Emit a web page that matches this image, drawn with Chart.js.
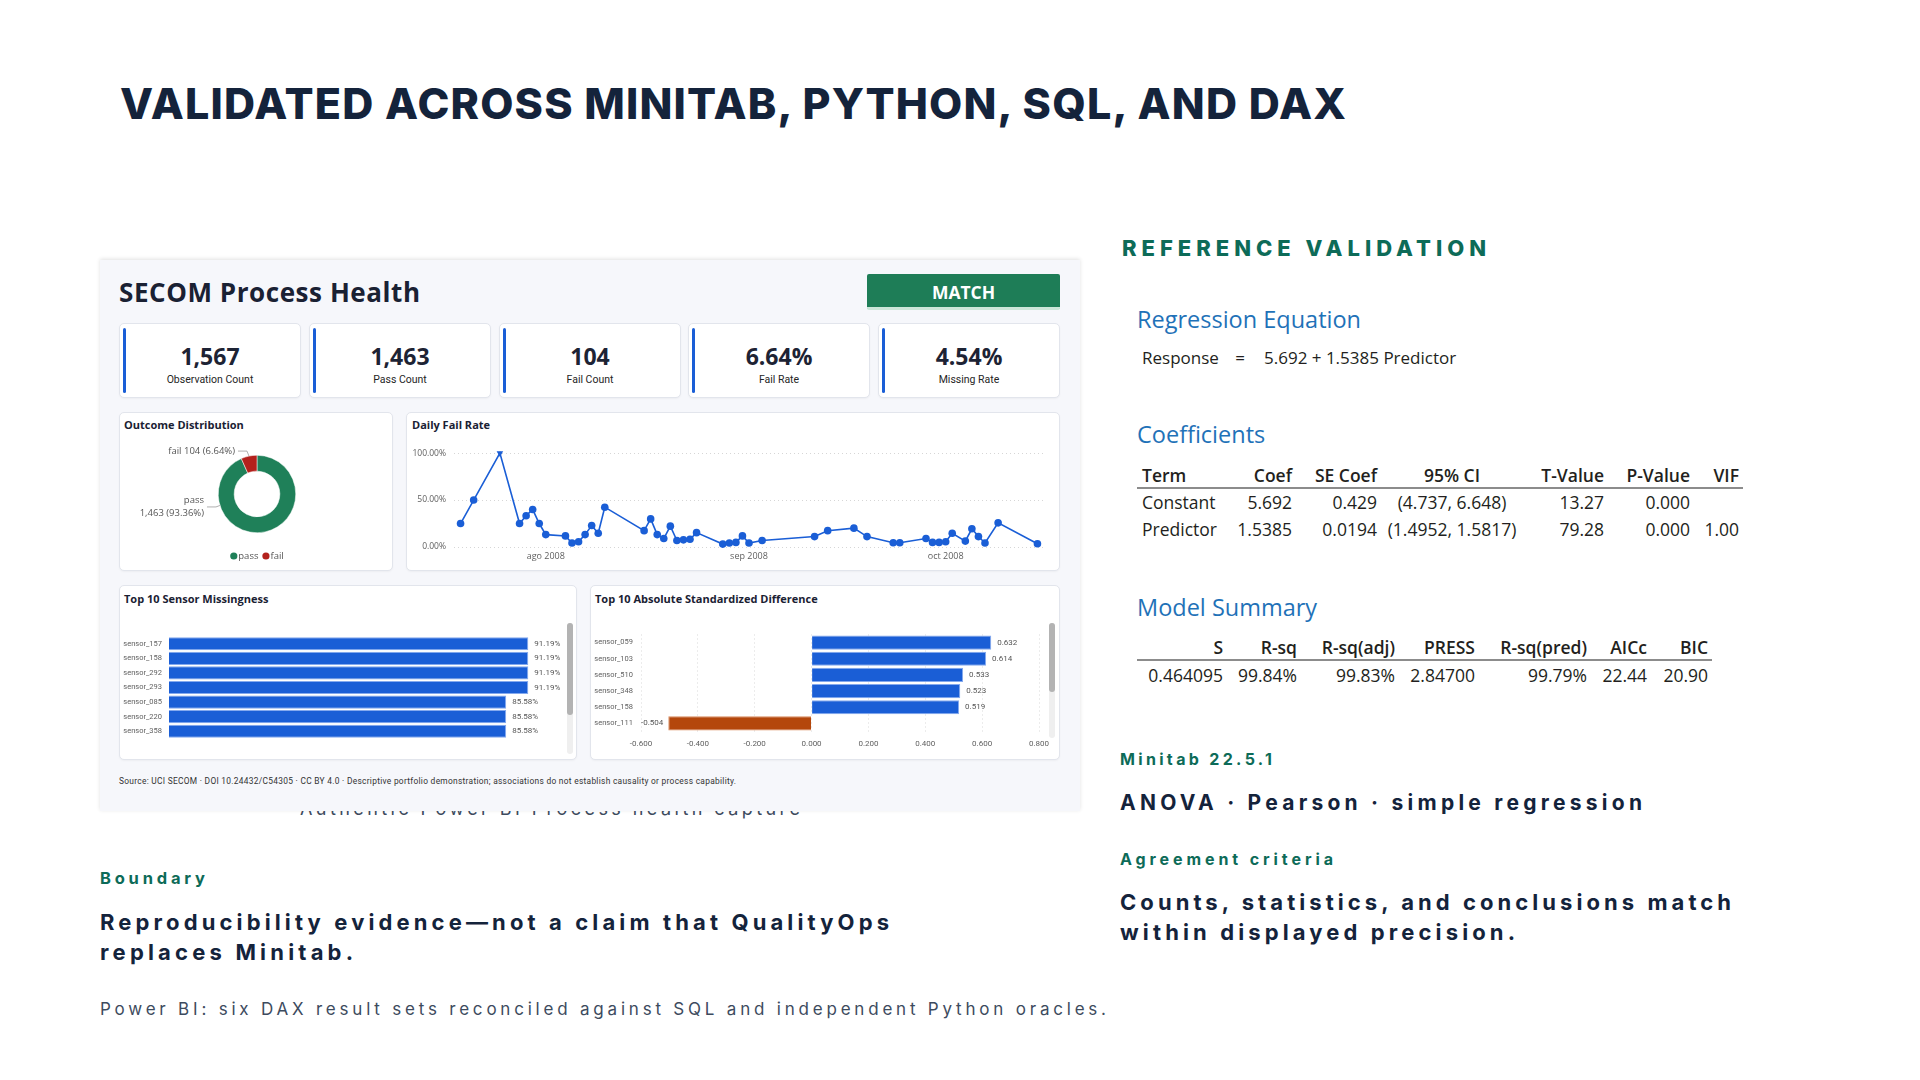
<!DOCTYPE html>
<html lang="en">
<head>
<meta charset="utf-8">
<title>Validated across Minitab, Python, SQL, and DAX</title>
<script src="https://cdn.jsdelivr.net/npm/chart.js@4.4.1/dist/chart.umd.min.js"></script>
<style>
  html, body { margin: 0; padding: 0; background: #fff; }
  body { position: relative; width: 1920px; height: 1080px; overflow: hidden; font-family: Inter, "Noto Sans", sans-serif; color: #14233b; }
  .t { position: absolute; white-space: nowrap; line-height: 1; }
  .kicker { font-weight: 700; color: #0d6b58; }
  .strong { font-weight: 700; color: #14233b; }
  .mt { font-family: "Open Sans", "Noto Sans", sans-serif; color: #231f20; }
  .mt-h { font-family: "Open Sans", "Noto Sans", sans-serif; color: #1f72b8; }
  .rule { position: absolute; height: 2px; background: #8c8c8c; }
  #panel { position: absolute; left: 100px; top: 260px; width: 980px; height: 551px; background: #f6f7fb; box-shadow: 0 -1px 4px rgba(0,0,0,0.12); z-index: 2; }
  .pbi { font-family: "Open Sans", "Noto Sans", sans-serif; z-index: 3; }
  .card { position: absolute; background: #fff; border: 1px solid #e2e5ec; border-radius: 5px; box-sizing: border-box; z-index: 3; box-shadow: 0 1px 2px rgba(0,0,0,0.04); }
  .kpi .bar { position: absolute; left: 3px; top: 4px; width: 3px; height: 65px; background: #1a5ed6; border-radius: 2px; }
  .kpi .val { position: absolute; left: 0; right: 0; top: 21px; text-align: center; font-size: 23px; font-weight: 700; color: #1d2334; line-height: 1; }
  .kpi .lab { position: absolute; left: 0; right: 0; top: 51px; text-align: center; font-size: 10.5px; color: #252525; line-height: 1; font-family: Roboto, "Open Sans", sans-serif; }
  #match { position: absolute; left: 867px; top: 274px; width: 193px; height: 33px; background: #1e7d57; border-bottom: 3px solid #cbe6d9; border-radius: 2px; color: #fff; font-weight: 700; font-size: 17.5px; line-height: 36px; text-align: center; z-index: 3; overflow: hidden; }
  canvas { position: absolute; z-index: 4; }
  .scroll { position: absolute; width: 6px; background: #efefef; border-radius: 3px; z-index: 4; }
  .scroll div { position: absolute; left: 0; top: 0; width: 6px; background: #b3b3b3; border-radius: 3px; }
</style>
</head>
<body>

<div id="panel"></div>
<div id="match" class="pbi">MATCH</div>
<div class="card" style="left:119px;top:412px;width:274px;height:159px;"></div>
<div class="card" style="left:406px;top:412px;width:654px;height:159px;"></div>
<div class="card" style="left:119px;top:585px;width:458px;height:175px;"></div>
<div class="card" style="left:590px;top:585px;width:470px;height:175px;"></div>
<div class="scroll" style="left:567px;top:623px;height:131px;"><div style="height:92px;"></div></div>
<div class="scroll" style="left:1049px;top:623px;height:115px;"><div style="height:69px;"></div></div>

<canvas id="donut" width="272" height="140" style="left:120px;top:432px;"></canvas>
<canvas id="rate" width="650" height="131" style="left:407px;top:440px;"></canvas>
<canvas id="miss" width="447" height="125" style="left:120px;top:625px;"></canvas>
<canvas id="diff" width="469" height="134" style="left:591px;top:622px;"></canvas>

<script>
// ---- data ----
const kpiValues = ['1,567', '1,463', '104', '6.64%', '4.54%'];
const kpiLabels = ['Observation Count', 'Pass Count', 'Fail Count', 'Fail Rate', 'Missing Rate'];

const outcomeLabels = ['pass', 'fail'];
const outcomeCounts = [1463, 104];
const outcomeShares = ['93.36%', '6.64%'];

const failDates = ['2008-07-19','2008-07-21','2008-07-25','2008-07-28','2008-07-29','2008-07-30','2008-07-31',
  '2008-08-01','2008-08-04','2008-08-05','2008-08-06','2008-08-07','2008-08-08','2008-08-09','2008-08-10',
  '2008-08-16','2008-08-17','2008-08-18','2008-08-19','2008-08-20','2008-08-21','2008-08-22','2008-08-23','2008-08-24',
  '2008-08-28','2008-08-29','2008-08-30','2008-08-31','2008-09-01','2008-09-03','2008-09-11','2008-09-13',
  '2008-09-17','2008-09-19','2008-09-23','2008-09-24','2008-09-28','2008-09-29','2008-09-30','2008-10-01',
  '2008-10-02','2008-10-04','2008-10-05','2008-10-06','2008-10-07','2008-10-09','2008-10-15'];
const failRates = [25, 50, 100, 25, 33.3, 40, 25,
  13.2, 11.8, 4.2, 5.6, 13.2, 22.9, 14.6, 42.4,
  17.4, 29.9, 13.2, 9.0, 22.2, 6.9, 7.6, 8.3, 15.3,
  3.1, 4.2, 4.9, 11.8, 4.2, 6.9, 11.1, 17.4,
  20.1, 11.1, 4.5, 4.5, 9.0, 4.9, 4.9, 5.6,
  14.6, 6.3, 19.4, 11.1, 4.2, 25.7, 3.5];
const monthTickDates = ['2008-08-01', '2008-09-01', '2008-10-01'];
const monthTickLabels = ['ago 2008', 'sep 2008', 'oct 2008'];
const rateTicks = [0, 50, 100];

const missSensors = ['sensor_157','sensor_158','sensor_292','sensor_293','sensor_085','sensor_220','sensor_358'];
const missPct = [91.19, 91.19, 91.19, 91.19, 85.58, 85.58, 85.58];

const diffSensors = ['sensor_059','sensor_103','sensor_510','sensor_348','sensor_158','sensor_111'];
const diffValues = [0.632, 0.614, 0.533, 0.523, 0.519, -0.504];

const coefHeader = ['Term', 'Coef', 'SE Coef', '95% CI', 'T-Value', 'P-Value', 'VIF'];
const coefRows = [
  ['Constant', '5.692', '0.429', '(4.737, 6.648)', '13.27', '0.000', ''],
  ['Predictor', '1.5385', '0.0194', '(1.4952, 1.5817)', '79.28', '0.000', '1.00']
];
const summaryHeader = ['S', 'R-sq', 'R-sq(adj)', 'PRESS', 'R-sq(pred)', 'AICc', 'BIC'];
const summaryRow = ['0.464095', '99.84%', '99.83%', '2.84700', '99.79%', '22.44', '20.90'];

// ---- colours ----
const BLUE = '#1a5ed6';
const BLUE_EDGE = '#84a9ee';
const ORANGE = '#b4470c';
const PASS = '#1f8059';
const FAIL = '#b3211c';
const AXIS_TXT = '#5f5f5f';
const PBI_FONT = '"Open Sans", "Noto Sans", sans-serif';
const SMALL_FONT = 'Roboto, "Open Sans", sans-serif';

// ---- text helpers ----
function put(text, x, yc, fs, cls, align, weight) {
  var d = document.createElement('div');
  d.className = 't ' + cls;
  d.textContent = text;
  d.style.fontSize = fs + 'px';
  d.style.top = (yc - 0.53 * fs) + 'px';
  d.style.left = x + 'px';
  if (weight) d.style.fontWeight = weight;
  if (align == 'right') d.style.transform = 'translateX(-100%)';
  if (align == 'center') d.style.transform = 'translateX(-50%)';
  document.body.appendChild(d);
  return d;
}
// spread letters so the line spans the same width as in the slide
function fitWidth(el, target) {
  el.style.letterSpacing = '0px';
  var natural = el.getBoundingClientRect().width;
  var n = el.textContent.length;
  el.style.letterSpacing = ((target - natural) / (n - 1)) + 'px';
}

// slide texts
fitWidth(put('VALIDATED ACROSS MINITAB, PYTHON, SQL, AND DAX', 120, 104.5, 43, 'strong', 'left', 800), 1226);
fitWidth(put('REFERENCE VALIDATION', 1122, 249, 22, 'kicker', 'left', 800), 364);
fitWidth(put('Minitab 22.5.1', 1120, 759, 16, 'kicker'), 152);
fitWidth(put('ANOVA · Pearson · simple regression', 1120, 803, 21, 'strong'), 522);
fitWidth(put('Agreement criteria', 1120, 859, 16, 'kicker'), 213);
fitWidth(put('Counts, statistics, and conclusions match', 1120, 903, 22, 'strong'), 611);
fitWidth(put('within displayed precision.', 1120, 933, 22, 'strong'), 395);
fitWidth(put('Boundary', 100, 879, 16.5, 'kicker'), 105);
fitWidth(put('Reproducibility evidence\u2014not a claim that QualityOps', 100, 923, 22, 'strong'), 789);
fitWidth(put('replaces Minitab.', 100, 953, 22, 'strong'), 253);
var pb = put('Power BI: six DAX result sets reconciled against SQL and independent Python oracles.', 100, 1010, 17, 'strong', 'left', 400);
pb.style.color = '#3d4b5e';
fitWidth(pb, 1006);
var cap = put('Authentic Power BI Process health capture', 300, 810, 18, 'strong', 'left', 400);
cap.style.color = '#3d4b5e';
cap.style.zIndex = 1;
fitWidth(cap, 500);

// Minitab output
put('Regression Equation', 1137, 320, 23.5, 'mt-h');
put('Response', 1142, 358, 17, 'mt');
put('=', 1240, 358, 17, 'mt', 'center');
put('5.692 + 1.5385 Predictor', 1264, 358, 17, 'mt');
put('Coefficients', 1137, 435, 23.5, 'mt-h');
put('Model Summary', 1137, 608, 23.5, 'mt-h');

var coefCols = [[1142, 'left'], [1292, 'right'], [1377, 'right'], [1452, 'center'], [1604, 'right'], [1690, 'right'], [1739, 'right']];
coefHeader.forEach(function (h, i) { put(h, coefCols[i][0], 476, 17.5, 'mt', coefCols[i][1], 600); });
coefRows.forEach(function (row, r) {
  row.forEach(function (c, i) { if (c) put(c, coefCols[i][0], 503 + r * 27, 17.5, 'mt', coefCols[i][1]); });
});
var summaryCols = [1223, 1297, 1395, 1475, 1587, 1647, 1708];
summaryHeader.forEach(function (h, i) { put(h, summaryCols[i], 648, 17.5, 'mt', 'right', 600); });
summaryRow.forEach(function (c, i) { put(c, summaryCols[i], 676, 17.5, 'mt', 'right'); });
[[1137, 487, 606], [1137, 659, 575]].forEach(function (r) {
  var d = document.createElement('div');
  d.className = 'rule';
  d.style.left = r[0] + 'px'; d.style.top = r[1] + 'px'; d.style.width = r[2] + 'px';
  document.body.appendChild(d);
});

// dashboard texts
var secom = put('SECOM Process Health', 119, 293, 26, 'pbi', 'left', 700);
secom.style.color = '#1a2133';
fitWidth(secom, 301);
put('Outcome Distribution', 124, 425, 11, 'pbi', 'left', 700).style.color = '#1a2133';
put('Daily Fail Rate', 412, 425, 11, 'pbi', 'left', 700).style.color = '#1a2133';
put('Top 10 Sensor Missingness', 124, 599, 11, 'pbi', 'left', 700).style.color = '#1a2133';
put('Top 10 Absolute Standardized Difference', 595, 599, 11, 'pbi', 'left', 700).style.color = '#1a2133';
var src = put('Source: UCI SECOM \u00b7 DOI 10.24432/C54305 \u00b7 CC BY 4.0 \u00b7 Descriptive portfolio demonstration; associations do not establish causality or process capability.', 119, 781, 8.4, 'pbi');
src.style.fontFamily = SMALL_FONT;
src.style.color = '#333';
fitWidth(src, 617);

var kpiLeft = [119, 309, 499, 688, 878];
kpiValues.forEach(function (v, i) {
  var c = document.createElement('div');
  c.className = 'card kpi pbi';
  c.style.cssText = 'left:' + kpiLeft[i] + 'px;top:323px;width:182px;height:75px;';
  c.innerHTML = '<div class="bar"></div><div class="val"></div><div class="lab"></div>';
  c.querySelector('.val').textContent = v;
  c.querySelector('.lab').textContent = kpiLabels[i];
  document.body.appendChild(c);
});

// ---- charts ----
Chart.defaults.font.family = PBI_FONT;
Chart.defaults.animation = false;
Chart.defaults.plugins.legend.display = false;
Chart.defaults.plugins.tooltip.enabled = false;

function dayNum(s) { return Date.parse(s + 'T00:00:00Z') / 86400000; }
// keep end tick labels from shrinking the plot sideways
function noSidePad(s) { s.paddingLeft = 0; s.paddingRight = 0; }

// outside labels with leader lines, plus a small legend under the ring
const donutDecor = {
  id: 'donutDecor',
  afterDraw: function (chart, args, opts) {
    var ctx = chart.ctx;
    var meta = chart.getDatasetMeta(0);
    ctx.save();
    ctx.font = '9.5px ' + PBI_FONT;
    ctx.lineWidth = 0.8;
    meta.data.forEach(function (arc, i) {
      var p = arc.getProps(['x', 'y', 'outerRadius', 'startAngle', 'endAngle'], true);
      var ang = opts.anchors[i] == null ? (p.startAngle + p.endAngle) / 2 : opts.anchors[i];
      var ax = p.x + Math.cos(ang) * p.outerRadius, ay = p.y + Math.sin(ang) * p.outerRadius;
      var ex = ax + opts.elbows[i][0], ey = ay + opts.elbows[i][1];
      ctx.strokeStyle = '#9a9a9a';
      ctx.beginPath(); ctx.moveTo(ax, ay); ctx.lineTo(ex, ey); ctx.lineTo(ex - 9, ey); ctx.stroke();
      ctx.fillStyle = '#555';
      ctx.textAlign = 'right'; ctx.textBaseline = 'middle';
      var lines = opts.text[i];
      lines.forEach(function (t, k) {
        ctx.fillText(t, ex - 12, ey + (k - (lines.length - 1) / 2) * 13);
      });
    });
    // legend
    var labels = chart.data.labels, colors = chart.data.datasets[0].backgroundColor;
    var widths = labels.map(function (l) { return 8 + ctx.measureText(l).width; });
    var total = widths.reduce(function (a, b) { return a + b; }, 0) + 4 * (labels.length - 1);
    var x = meta.data[0].x - total / 2, y = opts.legendY;
    labels.forEach(function (l, i) {
      ctx.fillStyle = colors[i];
      ctx.beginPath(); ctx.arc(x + 3.5, y, 3.6, 0, Math.PI * 2); ctx.fill();
      ctx.fillStyle = '#555'; ctx.textAlign = 'left';
      ctx.fillText(l, x + 8, y);
      x += widths[i] + 4;
    });
    ctx.restore();
  }
};

new Chart(document.getElementById('donut'), {
  type: 'doughnut',
  data: {
    labels: outcomeLabels,
    datasets: [{ data: outcomeCounts, backgroundColor: [PASS, FAIL], borderColor: '#fff', borderWidth: 0.5 }]
  },
  options: {
    responsive: false,
    cutout: '59%',
    layout: { padding: { left: 98, right: 96, top: 23, bottom: 39 } },
    plugins: {
      donutDecor: {
        anchors: [Math.PI - 0.3, null],
        elbows: [[-4, 1.5], [-2, -5]],
        text: [[outcomeLabels[0], '1,463 (' + outcomeShares[0] + ')'], [outcomeLabels[1] + ' 104 (' + outcomeShares[1] + ')']],
        legendY: 124
      }
    }
  },
  plugins: [donutDecor]
});

new Chart(document.getElementById('rate'), {
  type: 'line',
  data: {
    datasets: [{
      data: failDates.map(function (d, i) { return { x: dayNum(d), y: failRates[i] }; }),
      borderColor: BLUE, backgroundColor: BLUE, borderWidth: 1.6,
      pointRadius: 3.8, pointHoverRadius: 3.8, pointBorderWidth: 0,
      pointStyle: failRates.map(function (v) { return v >= 100 ? 'triangle' : 'circle'; }),
      pointRotation: failRates.map(function (v) { return v >= 100 ? 180 : 0; }),
      clip: false
    }]
  },
  options: {
    responsive: false,
    layout: { padding: { top: 11, right: 13, bottom: 6 } },
    scales: {
      x: {
        type: 'linear', min: dayNum('2008-07-18'), max: dayNum('2008-10-16'),
        grid: { display: false, drawTicks: false }, border: { display: false },
        afterBuildTicks: function (s) { s.ticks = monthTickDates.map(function (d) { return { value: dayNum(d) }; }); },
        ticks: { padding: 4, font: { size: 9 }, color: AXIS_TXT, maxRotation: 0, autoSkip: false,
          callback: function (v, i) { return monthTickLabels[i]; } },
        afterFit: function (s) { s.height = 18; noSidePad(s); }
      },
      y: {
        min: 0, max: 100,
        afterBuildTicks: function (s) { s.ticks = rateTicks.map(function (v) { return { value: v }; }); },
        ticks: { padding: 8, font: { size: 8.5 }, color: AXIS_TXT, callback: function (v) { return v.toFixed(2) + '%'; } },
        grid: { color: '#d6d6d6', drawTicks: false, lineWidth: 1 },
        border: { display: false, dash: [1, 3] },
        afterFit: function (s) { s.width = 47; }
      }
    }
  }
});

// value labels at the end of each bar
const barValues = {
  id: 'barValues',
  afterDatasetsDraw: function (chart, args, opts) {
    var ctx = chart.ctx;
    var ds = chart.data.datasets[0];
    ctx.save();
    ctx.font = '8px ' + SMALL_FONT;
    ctx.fillStyle = '#555';
    ctx.textBaseline = 'middle';
    chart.getDatasetMeta(0).data.forEach(function (bar, i) {
      var v = ds.data[i];
      ctx.textAlign = v >= 0 ? 'left' : 'right';
      ctx.fillText(opts.format(v), bar.x + (v >= 0 ? 6 : -5), bar.y);
    });
    ctx.restore();
  }
};

new Chart(document.getElementById('miss'), {
  type: 'bar',
  data: {
    labels: missSensors,
    datasets: [{ data: missPct, backgroundColor: BLUE, borderColor: BLUE_EDGE, borderWidth: 1, barPercentage: 1, categoryPercentage: 0.9 }]
  },
  options: {
    indexAxis: 'y',
    responsive: false,
    layout: { padding: { top: 6, right: 4, bottom: 3 } },
    scales: {
      x: { display: false, min: 0, max: 100 },
      y: {
        grid: { display: false, drawTicks: false }, border: { display: false },
        ticks: { padding: 7, font: { size: 7.5, family: SMALL_FONT }, color: AXIS_TXT },
        afterFit: function (s) { s.width = 49; }
      }
    },
    plugins: { barValues: { format: function (v) { return v.toFixed(2) + '%'; } } }
  },
  plugins: [barValues]
});

new Chart(document.getElementById('diff'), {
  type: 'bar',
  data: {
    labels: diffSensors,
    datasets: [{
      data: diffValues,
      backgroundColor: diffValues.map(function (v) { return v >= 0 ? BLUE : ORANGE; }),
      borderColor: diffValues.map(function (v) { return v >= 0 ? BLUE_EDGE : '#d98a5c'; }),
      borderWidth: 1, barPercentage: 1, categoryPercentage: 0.88
    }]
  },
  options: {
    indexAxis: 'y',
    responsive: false,
    layout: { padding: { top: 7.5, right: 21 } },
    scales: {
      x: {
        min: -0.6, max: 0.8,
        ticks: { stepSize: 0.2, padding: 8, font: { size: 8, family: SMALL_FONT }, color: AXIS_TXT, callback: function (v) { return v.toFixed(3); } },
        grid: { color: '#d9d9d9', drawTicks: false },
        border: { display: false, dash: [1, 3] },
        afterFit: function (s) { s.height = 24.5; noSidePad(s); }
      },
      y: {
        grid: { display: false, drawTicks: false }, border: { display: false },
        ticks: { padding: 8, font: { size: 7.5, family: SMALL_FONT }, color: AXIS_TXT },
        afterFit: function (s) { s.width = 50; }
      }
    },
    plugins: { barValues: { format: function (v) { return v.toFixed(3); } } }
  },
  plugins: [barValues]
});
</script>
</body>
</html>
